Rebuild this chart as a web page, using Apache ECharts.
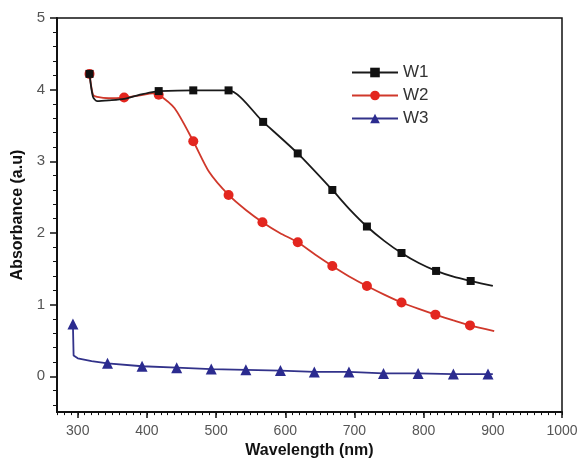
<!DOCTYPE html>
<html>
<head>
<meta charset="utf-8">
<script src="https://cdn.jsdelivr.net/npm/echarts@6/dist/echarts.min.js"></script>
<style>
html,body{margin:0;padding:0;background:#fff;}
#c{width:583px;height:464px;}
</style>
</head>
<body>
<div id="c"></div>
<script>
// ---- data ----
var seriesNames = ['W1', 'W2', 'W3'];

// W1: [wavelength, absorbance, marker?]
var w1X = [317, 322, 328, 345, 367, 390, 410, 417, 467, 518, 568, 618, 668, 693, 718, 743, 768, 793, 818, 843, 868, 900];
var w1Y = [4.22, 3.90, 3.84, 3.85, 3.87, 3.93, 3.97, 3.98, 3.99, 3.99, 3.55, 3.11, 2.60, 2.33, 2.09, 1.89, 1.72, 1.58, 1.47, 1.39, 1.33, 1.26];
var w1Mark = [1, 0, 0, 0, 0, 0, 0, 1, 1, 1, 1, 1, 1, 0, 1, 0, 1, 0, 1, 0, 1, 0];

var w2X = [317, 322, 328, 345, 367, 390, 408, 417, 440, 467, 490, 518, 543, 567, 592, 618, 643, 668, 693, 718, 743, 768, 793, 817, 843, 867, 902];
var w2Y = [4.22, 3.93, 3.90, 3.88, 3.89, 3.92, 3.95, 3.93, 3.74, 3.28, 2.85, 2.53, 2.32, 2.15, 2.00, 1.87, 1.70, 1.54, 1.39, 1.26, 1.14, 1.03, 0.94, 0.86, 0.78, 0.71, 0.63];
var w2Mark = [1, 0, 0, 0, 1, 0, 0, 1, 0, 1, 0, 1, 0, 1, 0, 1, 0, 1, 0, 1, 0, 1, 0, 1, 0, 1, 0];

var w3X = [293, 294, 300, 320, 343, 393, 443, 493, 543, 593, 642, 692, 742, 792, 843, 893, 900];
var w3Y = [0.73, 0.29, 0.25, 0.21, 0.18, 0.14, 0.12, 0.10, 0.09, 0.08, 0.06, 0.06, 0.04, 0.04, 0.03, 0.03, 0.03];
var w3Mark = [1, 0, 0, 0, 1, 1, 1, 1, 1, 1, 1, 1, 1, 1, 1, 1, 0];

var xTickLabels = [300, 400, 500, 600, 700, 800, 900, 1000];
var yTickLabels = [0, 1, 2, 3, 4, 5];
var yMinorTicks = [-0.4, -0.2, 0.2, 0.4, 0.6, 0.8, 1.2, 1.4, 1.6, 1.8, 2.2, 2.4, 2.6, 2.8, 3.2, 3.4, 3.6, 3.8, 4.2, 4.4, 4.6, 4.8];

// ---- build ----
function build(xs, ys, marks) {
  return xs.map(function (x, i) {
    var d = { value: [x, ys[i]] };
    if (!marks[i]) d.symbol = 'none';
    return d;
  });
}
var colors = ['#111111', '#e3261f', '#2b2b8f'];
var lineColors = ['#1a1a1a', '#d0382b', '#32328a'];
var symbols = ['rect', 'circle', 'triangle'];
var sizes = [8, 10, 11];
var datas = [build(w1X, w1Y, w1Mark), build(w2X, w2Y, w2Mark), build(w3X, w3Y, w3Mark)];

var font = 'Liberation Sans, Arial, sans-serif';
var chart = echarts.init(document.getElementById('c'), null, { renderer: 'canvas' });

var baseX = {
  type: 'value', min: 270, max: 1000, position: 'bottom',
  splitLine: { show: false }
};
var baseY = {
  type: 'value', min: -0.5, max: 5, position: 'left',
  splitLine: { show: false }
};

chart.setOption({
  backgroundColor: '#ffffff',
  animation: false,
  grid: { left: 57, right: 21, top: 18, bottom: 51, show: true, borderColor: '#111', borderWidth: 1.5, backgroundColor: 'transparent' },
  legend: {
    orient: 'vertical', left: 346, top: 59, itemWidth: 46, itemHeight: 12, itemGap: 6,
    textStyle: { fontFamily: font, fontSize: 17, color: '#333' },
    data: seriesNames
  },
  xAxis: [
    Object.assign({}, baseX, {
      name: 'Wavelength (nm)', nameLocation: 'middle', nameGap: 30,
      nameTextStyle: { fontFamily: font, fontSize: 16, fontWeight: 'bold', color: '#111' },
      axisLine: { show: true, onZero: false, lineStyle: { color: '#111', width: 2 } },
      axisTick: { show: true, inside: false, length: 6, customValues: xTickLabels, lineStyle: { color: '#111', width: 1.5 } },
      axisLabel: { show: true, customValues: xTickLabels, margin: 12, fontFamily: font, fontSize: 14, color: '#555',
        formatter: function (v) { return String(v); } }
    }),
    Object.assign({}, baseX, {
      interval: 10,
      axisLine: { show: false, onZero: false },
      axisTick: { show: true, inside: false, length: 3, lineStyle: { color: '#111', width: 1 } },
      axisLabel: { show: false }
    })
  ],
  yAxis: [
    Object.assign({}, baseY, {
      name: 'Absorbance (a.u)', nameLocation: 'middle', nameGap: 30, nameRotate: 90,
      nameTextStyle: { fontFamily: font, fontSize: 16, fontWeight: 'bold', color: '#111' },
      axisLine: { show: true, onZero: false, lineStyle: { color: '#111', width: 2 } },
      axisTick: { show: true, inside: false, length: 7, customValues: yTickLabels, lineStyle: { color: '#111', width: 1.5 } },
      axisLabel: { show: true, customValues: yTickLabels, margin: 12, fontFamily: font, fontSize: 15, color: '#555' }
    }),
    Object.assign({}, baseY, {
      axisLine: { show: false, onZero: false },
      axisTick: { show: true, inside: false, length: 4, customValues: yMinorTicks, lineStyle: { color: '#111', width: 1 } },
      axisLabel: { show: false }
    })
  ],
  series: seriesNames.map(function (n, i) {
    return {
      name: n, type: 'line', data: datas[i], xAxisIndex: 0, yAxisIndex: 0,
      smooth: i === 2 ? false : 0.25,
      showAllSymbol: true,
      symbol: symbols[i], symbolSize: sizes[i],
      itemStyle: { color: colors[i] },
      lineStyle: { color: lineColors[i], width: 1.8 },
      z: 3 - i
    };
  })
});
</script>
</body>
</html>
